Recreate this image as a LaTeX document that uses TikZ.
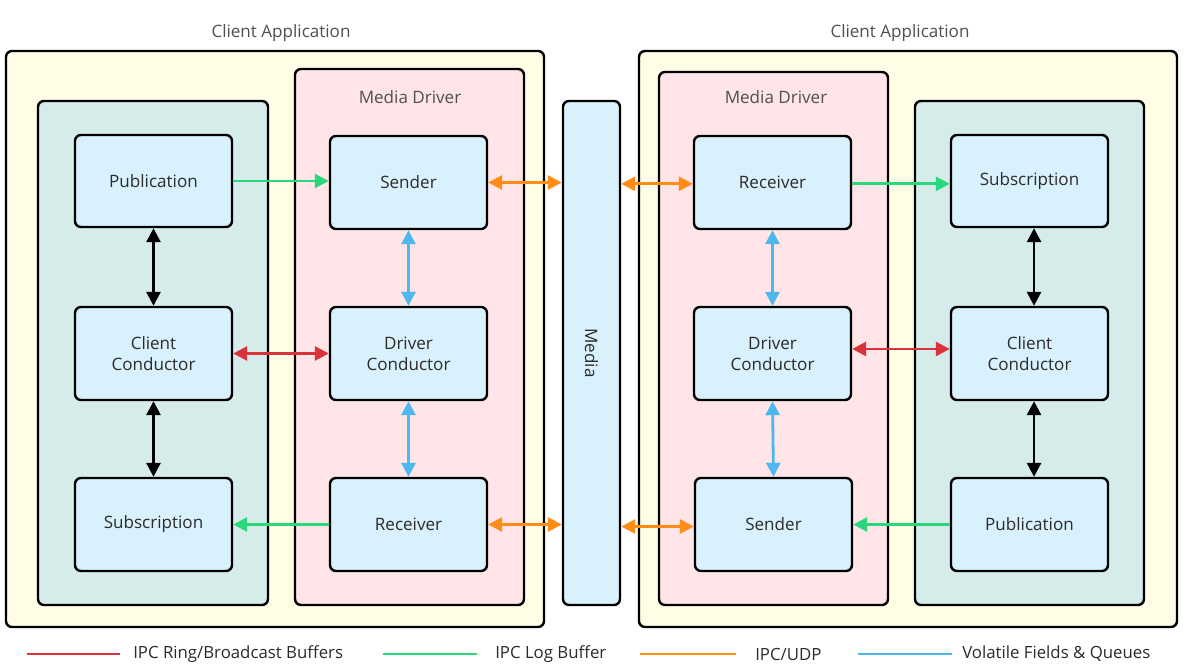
\documentclass[tikz,border=0pt]{standalone}
\usepackage{fontspec}
\setmainfont{Open Sans}
\usetikzlibrary{fit,arrows.meta}
\definecolor{appfill}{HTML}{FFFDE6}
\definecolor{drvfill}{HTML}{FFE4E8}
\definecolor{clifill}{HTML}{D6ECEA}
\definecolor{boxfill}{HTML}{D9F1FC}
\definecolor{txt}{HTML}{2B2B2B}
\definecolor{ttl}{HTML}{505050}
\definecolor{cred}{HTML}{D9343C}
\definecolor{cgreen}{HTML}{2AD87C}
\definecolor{corange}{HTML}{FF8C14}
\definecolor{cblue}{HTML}{4DB8F0}
\tikzset{
  cont/.style={draw=black, line width=1.8pt, rounded corners=4.5pt, inner sep=0pt},
  appbox/.style={cont, fill=appfill},
  drvbox/.style={cont, fill=drvfill},
  clibox/.style={cont, fill=clifill},
  ibox/.style={cont, fill=boxfill},
  itext/.style={text=txt, align=center, font=\fontsize{12.8}{15.8}\selectfont},
  ttltext/.style={text=ttl, font=\fontsize{12.8}{15}\selectfont},
  legtext/.style={text=txt, font=\fontsize{12.6}{15}\selectfont, anchor=west, inner sep=0pt},
  biarrow/.style={line width=2.1pt, {Triangle[length=10.5pt,width=10.5pt]}-{Triangle[length=10.5pt,width=10.5pt]}},
  uniarrow/.style={line width=2.1pt, -{Triangle[length=10.5pt,width=10.5pt]}},
  legline/.style={line width=2.1pt},
}
\begin{document}
\begin{tikzpicture}[x=0.75pt,y=-0.75pt]
\useasboundingbox[fill=white] (0,0) rectangle (1190,669);
% left application
\node[appbox, fit={(6,51)(544,627)}] (lapp) {};
\node[ttltext] (lappt) at (281,33) {Client Application};
\node[clibox, fit={(38,101)(268,605)}] (lcli) {};
\node[drvbox, fit={(295,69)(524,605)}] (ldrv) {};
\node[ttltext] (ldrvt) at (410,97) {Media Driver};
\node[ibox, fit={(75,135)(232,227)}] (lpub) {};
\node[itext] (lpubt) at (lpub) {Publication};
\node[ibox, fit={(75,307)(232,400)}] (lcc) {};
\node[itext] (lcct) at (lcc) {Client\\Conductor};
\node[ibox, fit={(75,478)(232,571)}] (lsub) {};
\node[itext] (lsubt) at (lsub) {Subscription};
\node[ibox, fit={(330,136)(487,229)}] (lsnd) {};
\node[itext] (lsndt) at (lsnd) {Sender};
\node[ibox, fit={(330,307)(487,400)}] (ldc) {};
\node[itext] (ldct) at (ldc) {Driver\\Conductor};
\node[ibox, fit={(330,478)(487,571)}] (lrcv) {};
\node[itext] (lrcvt) at (lrcv) {Receiver};
% media
\node[ibox, fit={(563,101)(620,605)}] (media) {};
\node[itext, rotate=-90] (mediat) at (media) {Media};
% right application
\node[appbox, fit={(639,51)(1177,627)}] (rapp) {};
\node[ttltext] (rappt) at (900,33) {Client Application};
\node[drvbox, fit={(659,72)(888,605)}] (rdrv) {};
\node[ttltext] (rdrvt) at (776,97) {Media Driver};
\node[clibox, fit={(915,101)(1144,605)}] (rcli) {};
\node[ibox, fit={(694,136)(851,229)}] (rrcv) {};
\node[itext] (rrcvt) at (rrcv) {Receiver};
\node[ibox, fit={(694,307)(851,400)}] (rdc) {};
\node[itext] (rdct) at (rdc) {Driver\\Conductor};
\node[ibox, fit={(695,478)(852,571)}] (rsnd) {};
\node[itext] (rsndt) at (rsnd) {Sender};
\node[ibox, fit={(951,135)(1108,227)}] (rsub) {};
\node[itext] (rsubt) at (rsub) {Subscription};
\node[ibox, fit={(951,307)(1108,400)}] (rcc) {};
\node[itext] (rcct) at (rcc) {Client\\Conductor};
\node[ibox, fit={(951,478)(1108,571)}] (rpub) {};
\node[itext] (rpubt) at (rpub) {Publication};
% connectors left
\draw[uniarrow, cgreen] (lpub.east) -- (lpub.east -| lsnd.west);
\draw[biarrow, corange] (lsnd.east) -- (lsnd.east -| media.west);
\draw[biarrow, black] (lpub.south) -- (lcc.north);
\draw[biarrow, black] (lcc.south) -- (lsub.north);
\draw[biarrow, cred] (lcc.east) -- (lcc.east -| ldc.west);
\draw[biarrow, cblue] (lsnd.south) -- (ldc.north);
\draw[biarrow, cblue] (ldc.south) -- (lrcv.north);
\draw[uniarrow, cgreen] (lrcv.west) -- (lrcv.west -| lsub.east);
\draw[biarrow, corange] (lrcv.east) -- (lrcv.east -| media.west);
% connectors right
\draw[biarrow, corange] ([yshift=-1pt]rrcv.west -| media.east) -- ([yshift=-1pt]rrcv.west);
\draw[uniarrow, cgreen] ([yshift=-1pt]rrcv.east) -- ([yshift=-1pt]rrcv.east -| rsub.west);
\draw[biarrow, cblue] (rrcv.south) -- (rdc.north);
\draw[biarrow, cblue] (rdc.south) -- (rsnd.north);
\draw[biarrow, cred] ([yshift=3.4pt]rdc.east) -- ([yshift=3.4pt]rdc.east -| rcc.west);
\draw[biarrow, black] ([xshift=3.4pt]rsub.south) -- ([xshift=3.4pt]rcc.north);
\draw[biarrow, black] ([xshift=3.4pt]rcc.south) -- ([xshift=3.4pt]rpub.north);
\draw[uniarrow, cgreen] (rpub.west) -- (rpub.west -| rsnd.east);
\draw[biarrow, corange] ([yshift=-1.5pt]rsnd.west -| media.east) -- ([yshift=-1.5pt]rsnd.west);
% legend
\coordinate (l1a) at (27,654); \coordinate (l1b) at (120,654);
\coordinate (l2a) at (383,654); \coordinate (l2b) at (477,654);
\coordinate (l3a) at (640,654); \coordinate (l3b) at (736,654);
\coordinate (l4a) at (858,654); \coordinate (l4b) at (952,654);
\draw[legline, cred] (l1a) -- (l1b);
\draw[legline, cgreen] (l2a) -- (l2b);
\draw[legline, corange] (l3a) -- (l3b);
\draw[legline, cblue] (l4a) -- (l4b);
\node[legtext] (lg1) at (133,654) {IPC Ring/Broadcast Buffers};
\node[legtext] (lg2) at (495,654) {IPC Log Buffer};
\node[legtext] (lg3) at (755,654) {IPC/UDP};
\node[legtext] (lg4) at (962,654) {Volatile Fields \& Queues};
\end{tikzpicture}
\end{document}
